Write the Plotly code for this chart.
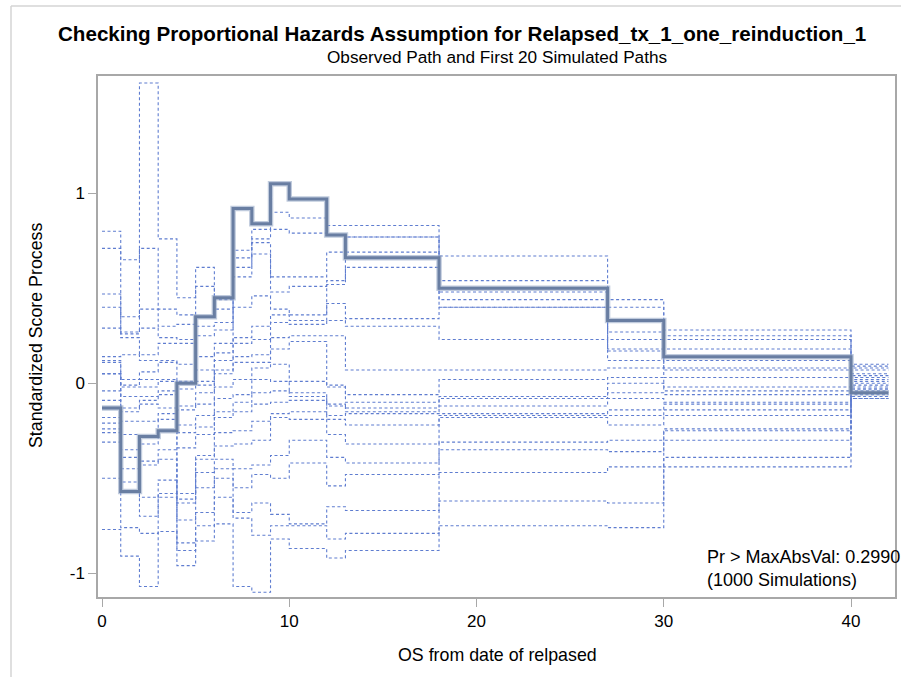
import plotly.graph_objects as go

# Step start times (last value = end of final step)
step_times = [0, 1, 2, 3, 4, 5, 6, 7, 8, 9, 10, 12, 13, 18, 27, 30, 40, 42]

# Observed standardized score process (one value per step)
observed = [-0.13, -0.57, -0.28, -0.25, 0.00, 0.35, 0.45, 0.92, 0.84, 1.05,
            0.97, 0.78, 0.66, 0.50, 0.33, 0.14, -0.05]

# Simulated path levels in each step interval (20 paths, ranked high -> low)
sim_t00 = [0.80, 0.71, 0.47, 0.40, 0.29, 0.14, 0.12, 0.11, 0.05, 0.05, 0.05, -0.04, -0.09, -0.18, -0.21, -0.24, -0.26, -0.31, -0.50, -0.77]
sim_t01 = [0.65, 0.35, 0.27, 0.26, 0.24, 0.15, 0.02, -0.01, -0.02, -0.07, -0.13, -0.15, -0.20, -0.27, -0.35, -0.39, -0.45, -0.52, -0.76, -0.91]
sim_t02 = [1.58, 0.71, 0.39, 0.29, 0.15, 0.12, 0.06, 0.02, -0.02, -0.07, -0.09, -0.11, -0.20, -0.32, -0.41, -0.43, -0.60, -0.70, -0.79, -1.07]
sim_t03 = [0.76, 0.39, 0.30, 0.24, 0.21, 0.12, 0.11, 0.02, 0.01, -0.04, -0.06, -0.13, -0.16, -0.19, -0.35, -0.40, -0.51, -0.58, -0.60, -0.78]
sim_t04 = [0.45, 0.36, 0.31, 0.23, 0.21, 0.10, 0.01, -0.03, -0.12, -0.14, -0.22, -0.26, -0.34, -0.58, -0.61, -0.63, -0.72, -0.84, -0.88, -0.96]
sim_t05 = [0.61, 0.51, 0.30, 0.25, 0.14, 0.07, 0.01, -0.01, -0.05, -0.11, -0.17, -0.23, -0.27, -0.38, -0.40, -0.47, -0.55, -0.68, -0.75, -0.83]
sim_t06 = [0.44, 0.39, 0.32, 0.28, 0.21, 0.16, 0.12, 0.07, 0.05, -0.02, -0.08, -0.15, -0.18, -0.26, -0.33, -0.40, -0.45, -0.50, -0.60, -0.74]
sim_t07 = [0.70, 0.66, 0.61, 0.56, 0.40, 0.24, 0.21, 0.14, 0.11, 0.02, -0.06, -0.10, -0.15, -0.25, -0.32, -0.45, -0.55, -0.68, -0.71, -1.07]
sim_t08 = [0.81, 0.76, 0.74, 0.68, 0.46, 0.30, 0.23, 0.15, 0.11, 0.08, 0.02, -0.05, -0.11, -0.20, -0.30, -0.43, -0.48, -0.63, -0.80, -1.10]
sim_t09 = [0.90, 0.81, 0.56, 0.48, 0.39, 0.36, 0.32, 0.24, 0.18, 0.10, 0.01, -0.04, -0.10, -0.16, -0.18, -0.38, -0.50, -0.69, -0.75, -0.82]
sim_t10 = [0.87, 0.79, 0.56, 0.51, 0.36, 0.33, 0.31, 0.25, 0.22, 0.01, -0.05, -0.07, -0.09, -0.15, -0.19, -0.30, -0.42, -0.74, -0.75, -0.87]
sim_t12 = [0.83, 0.78, 0.69, 0.54, 0.52, 0.42, 0.33, 0.25, -0.01, -0.02, -0.11, -0.12, -0.17, -0.19, -0.27, -0.39, -0.54, -0.65, -0.82, -0.92]
sim_t13 = [0.83, 0.77, 0.77, 0.69, 0.61, 0.34, 0.30, 0.07, -0.06, -0.10, -0.13, -0.15, -0.16, -0.22, -0.32, -0.42, -0.48, -0.67, -0.79, -0.88]
sim_t18 = [0.67, 0.54, 0.48, 0.44, 0.40, 0.40, 0.23, 0.07, 0.02, -0.07, -0.08, -0.12, -0.16, -0.17, -0.18, -0.31, -0.35, -0.47, -0.62, -0.75]
sim_t27 = [0.44, 0.40, 0.27, 0.23, 0.18, 0.17, 0.12, 0.08, 0.03, 0.00, -0.05, -0.08, -0.14, -0.17, -0.22, -0.30, -0.36, -0.44, -0.63, -0.76]
sim_t30 = [0.28, 0.25, 0.23, 0.18, 0.12, 0.08, 0.07, 0.03, -0.02, -0.04, -0.06, -0.10, -0.11, -0.14, -0.17, -0.24, -0.25, -0.30, -0.39, -0.44]
sim_t40 = [0.10, 0.09, 0.08, 0.07, 0.05, 0.04, 0.03, 0.02, 0.01, 0.00, -0.01, -0.02, -0.03, -0.03, -0.04, -0.05, -0.06, -0.07, -0.08, -0.08]

sim_by_step = [sim_t00, sim_t01, sim_t02, sim_t03, sim_t04, sim_t05, sim_t06, sim_t07,
               sim_t08, sim_t09, sim_t10, sim_t12, sim_t13, sim_t18, sim_t27, sim_t30, sim_t40]

x_ticks = [0, 10, 20, 30, 40]
y_ticks = [-1, 0, 1]
y_tick_labels = ["-1", "0", "1"]

title_text = "Checking Proportional Hazards Assumption for Relapsed_tx_1_one_reinduction_1"
subtitle_text = "Observed Path and First 20 Simulated Paths"
x_title = "OS from date of relpased"
y_title = "Standardized Score Process"
inset_lines = ["Pr > MaxAbsVal: 0.2990", "(1000 Simulations)"]

FONT = "Liberation Sans, Arial, sans-serif"

fig = go.Figure()

n_paths = len(sim_t00)
for k in range(n_paths):
    yk = [lev[k] for lev in sim_by_step]
    fig.add_trace(go.Scatter(
        x=step_times, y=yk + [yk[-1]], mode="lines", line_shape="hv",
        line=dict(color="rgb(95,125,208)", width=1.1, dash="3px,2.5px"),
        showlegend=False, hoverinfo="skip"))

fig.add_trace(go.Scatter(
    x=step_times, y=observed + [observed[-1]], mode="lines", line_shape="hv",
    line=dict(color="rgba(150,168,198,0.6)", width=5.5),
    showlegend=False, hoverinfo="skip"))
fig.add_trace(go.Scatter(
    x=step_times, y=observed + [observed[-1]], mode="lines", line_shape="hv",
    line=dict(color="rgb(105,126,162)", width=3),
    showlegend=False, hoverinfo="skip"))

# geometry helpers (pixel -> paper)
L, R, T, B = 98, 895, 76, 597
W, H = 901, 677
def px(x):
    return (x - L) / (R - L)
def py(y):
    return (B - y) / (B - T)

axis_col = "#a8a8a8"
fig.update_layout(
    width=W, height=H,
    margin=dict(l=L, r=W - R, t=T, b=H - B, pad=0),
    paper_bgcolor="white", plot_bgcolor="white",
    font=dict(family=FONT, color="#000000"),
    xaxis=dict(range=[-0.214, 42.35], tickvals=x_ticks, ticks="outside", ticklen=8,
               tickcolor=axis_col, tickwidth=1, showline=True, linecolor=axis_col,
               linewidth=1.5, mirror=True, showgrid=False, zeroline=False,
               automargin=False, tickfont=dict(size=17, family=FONT, color="#000")),
    yaxis=dict(range=[-1.125, 1.617], tickvals=y_ticks, ticktext=y_tick_labels,
               ticks="outside", ticklen=8,
               tickcolor=axis_col, tickwidth=1, showline=True, linecolor=axis_col,
               linewidth=1.5, mirror=True, showgrid=False, zeroline=False,
               automargin=False, tickfont=dict(size=17, family=FONT, color="#000")),
)

ann = []
ann.append(dict(text="<b>" + title_text + "</b>", x=px(461.5), y=py(34), xref="paper", yref="paper",
                xanchor="center", yanchor="middle", showarrow=False,
                font=dict(size=20.6, family=FONT, color="#000")))
ann.append(dict(text=subtitle_text, x=px(497), y=py(57), xref="paper", yref="paper",
                xanchor="center", yanchor="middle", showarrow=False,
                font=dict(size=17.2, family=FONT, color="#000")))
ann.append(dict(text=x_title, x=px(497), y=py(655), xref="paper", yref="paper",
                xanchor="center", yanchor="middle", showarrow=False,
                font=dict(size=17.8, family=FONT, color="#000")))
ann.append(dict(text=y_title, x=px(36), y=py(336), xref="paper", yref="paper",
                xanchor="center", yanchor="middle", showarrow=False, textangle=-90,
                font=dict(size=17.8, family=FONT, color="#000")))
ann.append(dict(text=inset_lines[0], x=px(705), y=py(557), xref="paper", yref="paper",
                xanchor="left", yanchor="middle", showarrow=False,
                font=dict(size=18, family=FONT, color="#000")))
ann.append(dict(text=inset_lines[1], x=px(705), y=py(580), xref="paper", yref="paper",
                xanchor="left", yanchor="middle", showarrow=False,
                font=dict(size=18, family=FONT, color="#000")))
fig.update_layout(annotations=ann)

# outer graph border (left and top visible in the reference)
fig.add_shape(type="line", xref="paper", yref="paper", x0=px(11), x1=px(11),
              y0=py(6), y1=py(H + 5), line=dict(color="#d4d4d4", width=1.5))
fig.add_shape(type="line", xref="paper", yref="paper", x0=px(11), x1=px(W + 5),
              y0=py(6), y1=py(6), line=dict(color="#d4d4d4", width=1.5))

fig.write_html("out.html", config={"displayModeBar": False},
               post_script="document.body.style.margin='0';document.body.style.overflow='hidden';")
